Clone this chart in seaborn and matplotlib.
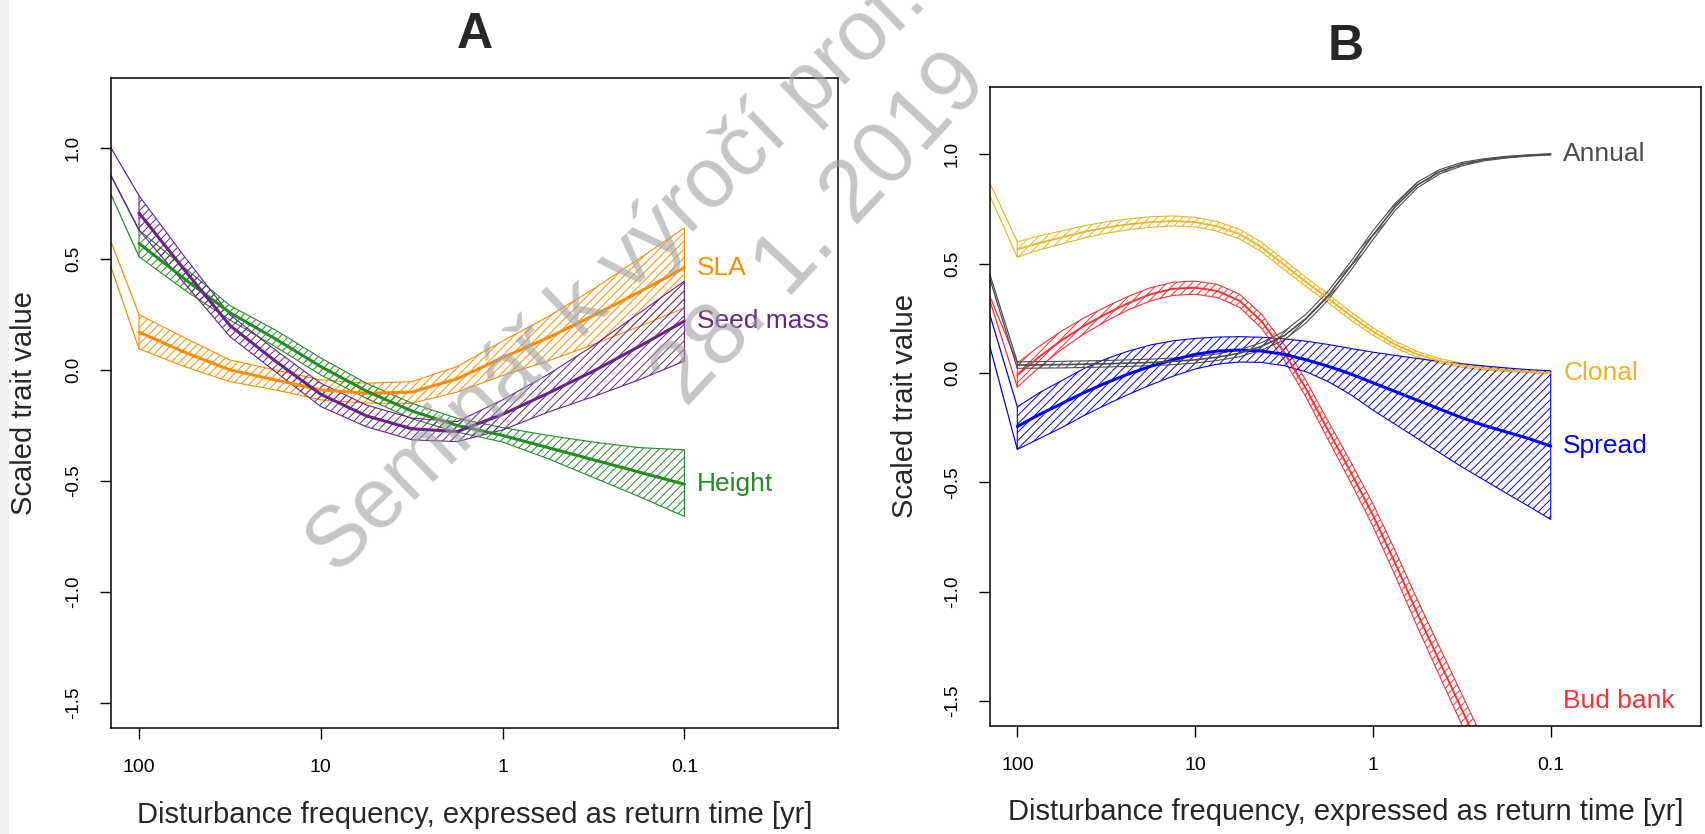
import matplotlib
matplotlib.use("Agg")
import matplotlib.pyplot as plt
from matplotlib.patches import Rectangle
import pandas as pd
import seaborn as sns

# return time [yr] of the fitted points (x axis, log scale, reversed)
x_a = [100, 56.2, 31.6, 17.8, 10, 5.62, 3.16, 1.78, 1, 0.562, 0.316, 0.178, 0.1]
x_b = [100, 75, 56.2, 42.2, 31.6, 23.7, 17.8, 13.3, 10, 7.5, 5.62, 4.22, 3.16,
       2.37, 1.78, 1.33, 1, 0.75, 0.562, 0.422, 0.316, 0.237, 0.178, 0.133, 0.1]
x_undisturbed = 142.6  # left border of the plot

# panel A
sla_mean = [0.17, 0.08, 0.0, -0.045, -0.09, -0.105, -0.1, -0.04, 0.055, 0.145, 0.245, 0.35, 0.46]
sla_upper = [0.25, 0.145, 0.045, 0.0, -0.045, -0.06, -0.053, 0.015, 0.13, 0.24, 0.365, 0.5, 0.64]
sla_lower = [0.095, 0.015, -0.053, -0.09, -0.135, -0.15, -0.15, -0.1, -0.025, 0.04, 0.115, 0.195, 0.28]
sla_start = [0.577, 0.464]

seed_mean = [0.707, 0.45, 0.2, 0.04, -0.11, -0.207, -0.265, -0.278, -0.2, -0.105, -0.005, 0.105, 0.22]
seed_upper = [0.785, 0.51, 0.248, 0.09, -0.06, -0.158, -0.217, -0.233, -0.135, -0.02, 0.11, 0.255, 0.4]
seed_lower = [0.63, 0.39, 0.15, -0.008, -0.165, -0.256, -0.315, -0.323, -0.27, -0.19, -0.12, -0.045, 0.04]
seed_start = [1.0, 0.875]

height_mean = [0.57, 0.41, 0.258, 0.14, 0.015, -0.095, -0.185, -0.25, -0.295, -0.35, -0.405, -0.46, -0.515]
height_upper = [0.63, 0.46, 0.29, 0.18, 0.054, -0.06, -0.15, -0.218, -0.26, -0.295, -0.325, -0.35, -0.36]
height_lower = [0.51, 0.36, 0.225, 0.105, -0.023, -0.128, -0.22, -0.28, -0.325, -0.4, -0.485, -0.57, -0.66]
height_start = [0.875, 0.79]

# panel B
annual_mean = [0.036, 0.037, 0.038, 0.04, 0.042, 0.045, 0.048, 0.053, 0.06, 0.072, 0.09, 0.122, 0.17,
               0.25, 0.355, 0.49, 0.63, 0.76, 0.86, 0.92, 0.955, 0.975, 0.987, 0.995, 1.0]
annual_upper = [0.051, 0.052, 0.053, 0.055, 0.057, 0.06, 0.063, 0.068, 0.075, 0.087, 0.106, 0.139, 0.19,
                0.27, 0.375, 0.51, 0.65, 0.776, 0.873, 0.93, 0.963, 0.98, 0.991, 0.998, 1.003]
annual_lower = [0.021, 0.022, 0.023, 0.025, 0.027, 0.03, 0.033, 0.038, 0.045, 0.057, 0.074, 0.105, 0.15,
                0.23, 0.335, 0.47, 0.61, 0.744, 0.847, 0.91, 0.947, 0.97, 0.983, 0.992, 0.997]
annual_start = [0.45, 0.43]

clonal_mean = [0.565, 0.595, 0.62, 0.645, 0.665, 0.68, 0.69, 0.695, 0.69, 0.67, 0.635, 0.575, 0.495,
               0.415, 0.34, 0.26, 0.19, 0.13, 0.085, 0.055, 0.035, 0.02, 0.012, 0.005, 0.0]
clonal_upper = [0.6, 0.627, 0.65, 0.673, 0.691, 0.705, 0.714, 0.718, 0.712, 0.692, 0.657, 0.597, 0.517,
                0.436, 0.36, 0.279, 0.207, 0.145, 0.098, 0.066, 0.044, 0.027, 0.017, 0.009, 0.003]
clonal_lower = [0.53, 0.563, 0.59, 0.617, 0.639, 0.655, 0.666, 0.672, 0.668, 0.648, 0.613, 0.553, 0.473,
                0.394, 0.32, 0.241, 0.173, 0.115, 0.072, 0.044, 0.026, 0.013, 0.007, 0.001, -0.003]
clonal_start = [0.867, 0.81]

spread_mean = [-0.245, -0.19, -0.14, -0.09, -0.045, -0.005, 0.03, 0.06, 0.085, 0.1, 0.105, 0.1, 0.085,
               0.06, 0.03, -0.005, -0.045, -0.085, -0.125, -0.165, -0.205, -0.24, -0.27, -0.3, -0.335]
spread_upper = [-0.155, -0.09, -0.035, 0.02, 0.065, 0.1, 0.128, 0.147, 0.158, 0.164, 0.166, 0.163, 0.156,
                0.145, 0.13, 0.112, 0.095, 0.08, 0.066, 0.053, 0.042, 0.032, 0.023, 0.015, 0.01]
spread_lower = [-0.35, -0.3, -0.25, -0.195, -0.145, -0.098, -0.055, -0.015, 0.018, 0.04, 0.05, 0.048, 0.033,
                0.005, -0.04, -0.1, -0.17, -0.235, -0.3, -0.365, -0.43, -0.49, -0.55, -0.61, -0.67]
spread_start = [0.265, 0.12]

budbank_mean = [-0.01, 0.075, 0.15, 0.215, 0.27, 0.32, 0.36, 0.385, 0.39, 0.375, 0.33, 0.235, 0.095,
                -0.075, -0.265, -0.455, -0.65, -0.87, -1.1, -1.32, -1.54, -1.76]
budbank_upper = [0.045, 0.123, 0.192, 0.252, 0.303, 0.351, 0.39, 0.415, 0.42, 0.405, 0.36, 0.267, 0.13,
                 -0.037, -0.223, -0.408, -0.598, -0.813, -1.038, -1.254, -1.47, -1.686]
budbank_lower = [-0.065, 0.027, 0.108, 0.178, 0.237, 0.289, 0.33, 0.355, 0.36, 0.345, 0.3, 0.203, 0.06,
                 -0.113, -0.307, -0.502, -0.702, -0.927, -1.162, -1.386, -1.61, -1.834]
budbank_start = [0.35, 0.33]

sns.set_theme(style="ticks")
plt.rcParams["font.family"] = ["Liberation Sans", "DejaVu Sans"]
plt.rcParams["hatch.linewidth"] = 0.7

fig = plt.figure(figsize=(17.05, 8.34), dpi=100)
fig.patches.append(Rectangle((0, 0), 8 / 1705, 1, transform=fig.transFigure,
                             color="#F0F0F0", zorder=0))

ax_a = fig.add_axes([0.0651, 0.1271, 0.4264, 0.7794])
ax_b = fig.add_axes([0.5806, 0.1295, 0.4170, 0.7662])


def draw_trait(ax, x, mean, lower, upper, start, color, name, lw=2.2, label_pos=None):
    x = x[:len(mean)]
    ax.fill_between(x, lower, upper, facecolor="none", edgecolor=color,
                    hatch="////", linewidth=0.8)
    # segments from the undisturbed end to the first fitted point
    ax.plot([x_undisturbed, x[0]], [start[0], upper[0]], color=color, lw=0.9)
    ax.plot([x_undisturbed, x[0]], [start[1], lower[0]], color=color, lw=0.9)
    df = pd.DataFrame({"return_time": x, "value": mean})
    sns.lineplot(data=df, x="return_time", y="value", ax=ax, color=color,
                 linewidth=lw, sort=False)
    if label_pos is None:
        label_pos = (x[-1], mean[-1])
    ax.annotate(name, label_pos, xytext=(9, 0), textcoords="offset points",
                color=color, fontsize=19, ha="left", va="center",
                annotation_clip=False)


draw_trait(ax_a, x_a, sla_mean, sla_lower, sla_upper, sla_start, "#FF8C00", "SLA")
draw_trait(ax_a, x_a, height_mean, height_lower, height_upper, height_start, "#228B22", "Height")
draw_trait(ax_a, x_a, seed_mean, seed_lower, seed_upper, seed_start, "#68228B", "Seed mass")

draw_trait(ax_b, x_b, clonal_mean, clonal_lower, clonal_upper, clonal_start, "#EEB422", "Clonal",
           lw=1.3)
draw_trait(ax_b, x_b, budbank_mean, budbank_lower, budbank_upper, budbank_start, "#FF3030",
           "Bud bank", lw=1.4, label_pos=(0.1, -1.5))
draw_trait(ax_b, x_b, spread_mean, spread_lower, spread_upper, spread_start, "#0000FF", "Spread")
draw_trait(ax_b, x_b, annual_mean, annual_lower, annual_upper, annual_start, "#4D4D4D", "Annual",
           lw=1.2)

for ax, title, ylim, tpad in [(ax_a, "A", (-1.613, 1.315), 21.6),
                              (ax_b, "B", (-1.615, 1.308), 19.4)]:
    ax.set_xscale("log")
    ax.set_xlim(142.6, 0.0143)
    ax.set_ylim(*ylim)
    ax.set_xticks([100, 10, 1, 0.1], ["100", "10", "1", "0.1"])
    ax.minorticks_off()
    ax.set_yticks([-1.5, -1.0, -0.5, 0.0, 0.5, 1.0],
                  ["-1.5", "-1.0", "-0.5", "0.0", "0.5", "1.0"])
    ax.tick_params(axis="both", direction="out", length=8, width=1.0,
                   color="black", labelsize=13.5, labelcolor="black")
    ax.tick_params(axis="x", pad=14, labelsize=14)
    ax.tick_params(axis="y", pad=13, labelrotation=90)
    for lab in ax.get_yticklabels():
        lab.set_verticalalignment("center")
    for sp in ax.spines.values():
        sp.set_visible(True)
        sp.set_color("black")
        sp.set_linewidth(1.1)
    ax.set_xlabel("Disturbance frequency, expressed as return time [yr]", fontsize=21)
    ax.set_ylabel("Scaled trait value", fontsize=21)
    ax.xaxis.set_label_coords(0.5, -0.113)
    ax.yaxis.set_label_coords(-0.1, 0.5)
    ax.set_title(title, fontsize=36, fontweight="bold", pad=tpad)

# watermark of the slide
fig.text(336 / 1705, 1 - 576 / 834, "Seminář k výročí prof. ", rotation=44,
         rotation_mode="anchor", ha="left", va="baseline", fontsize=61,
         color="#A0A0A0", alpha=0.6, zorder=10)
fig.text(686 / 1705, 1 - 408 / 834, "28. 1. 2019", rotation=47,
         rotation_mode="anchor", ha="left", va="baseline", fontsize=64,
         color="#A0A0A0", alpha=0.6, zorder=10)

fig.savefig("out.png", dpi=100)
